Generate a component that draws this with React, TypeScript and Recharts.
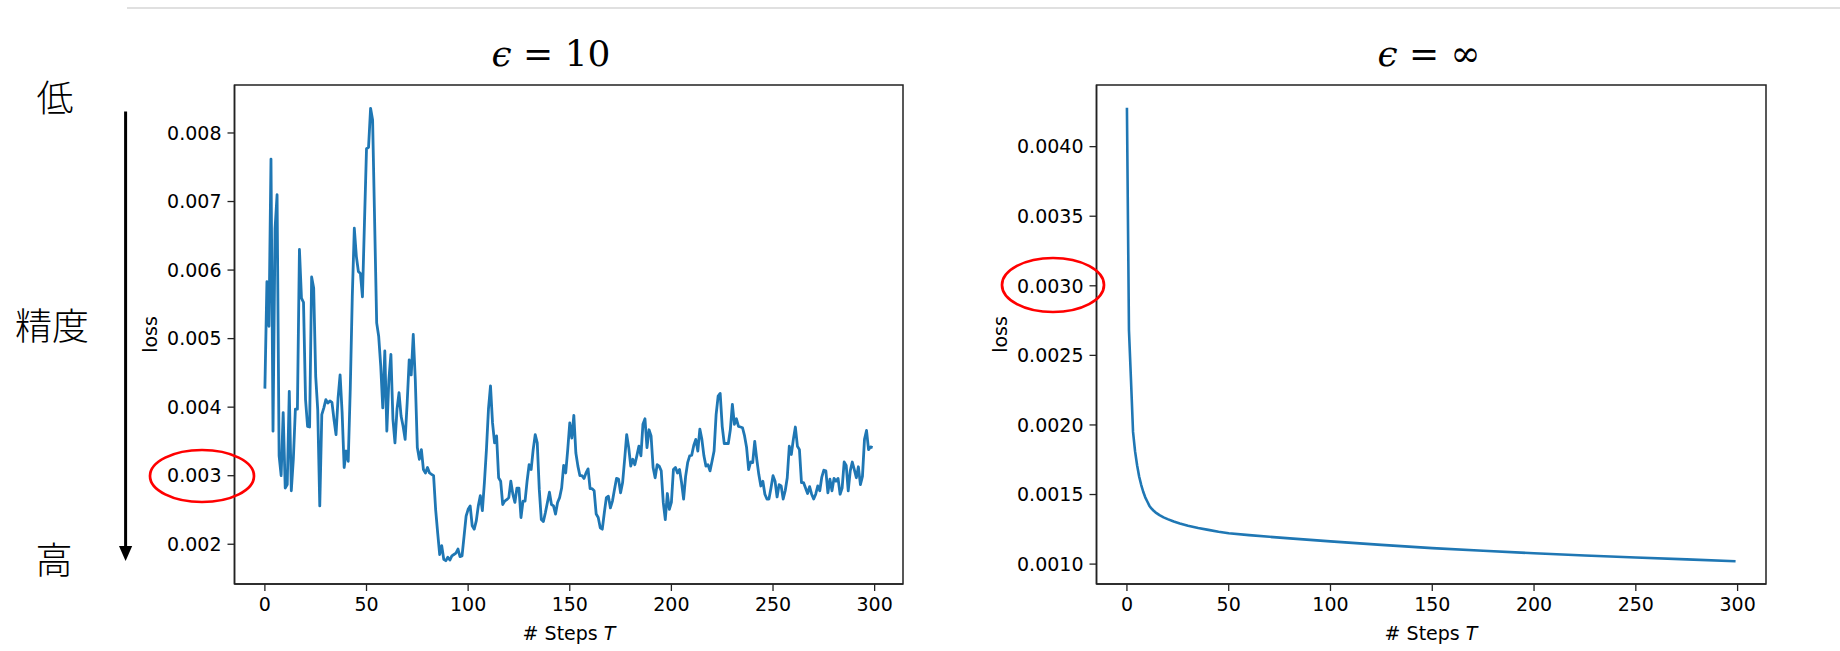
import { LineChart, Line, XAxis, YAxis, ReferenceArea } from 'recharts';

// loss per step, epsilon = 10 (steps 0..299)
const lossEps10 = [
  0.00427, 0.00583, 0.00518, 0.00762, 0.00365, 0.0066, 0.0071, 0.00329, 0.003, 0.00392, 0.00282, 0.00287,
  0.00423, 0.00278, 0.00324, 0.00397, 0.00397,
  0.0063, 0.00559, 0.00553, 0.00411, 0.00372, 0.00371, 0.0059, 0.00574, 0.00445, 0.00396, 0.00256, 0.00389, 0.00399,
  0.00411, 0.00406, 0.00409, 0.00407, 0.00382, 0.0036, 0.00413, 0.00447, 0.00392, 0.00312, 0.00336, 0.00321,
  0.00426, 0.00561, 0.00661, 0.0062, 0.00598, 0.00595, 0.00561, 0.0067,
  0.00777, 0.00779, 0.00836, 0.00819, 0.0067, 0.00523,
  0.00503, 0.0046, 0.00399, 0.00482, 0.00365, 0.0044, 0.00477, 0.00382, 0.00348, 0.00397, 0.00421, 0.00387, 0.00372, 0.00353,
  0.00406, 0.00469, 0.00447, 0.00506, 0.0044, 0.00341, 0.00324, 0.00338, 0.00309, 0.00304, 0.00312, 0.00304, 0.00302, 0.003,
  0.00251, 0.00217, 0.00185, 0.00198, 0.00178, 0.00176, 0.00181, 0.00177, 0.00183, 0.00185, 0.00187, 0.00193, 0.00182, 0.00183,
  0.00212, 0.00241, 0.00251, 0.00256, 0.00227, 0.00222, 0.00234, 0.00256, 0.00271, 0.00249, 0.0029, 0.00338, 0.00397,
  0.00431, 0.00377, 0.00348, 0.00358, 0.00297, 0.00292, 0.00258, 0.00263, 0.00265, 0.00268, 0.00292, 0.00273, 0.00261, 0.00282,
  0.00282, 0.00239, 0.00263, 0.00263, 0.00292, 0.00316, 0.00309, 0.00338, 0.0036, 0.00348, 0.0028, 0.00236, 0.00233, 0.00246,
  0.00261, 0.00276, 0.00258, 0.00256, 0.00244, 0.00261, 0.00268, 0.00282, 0.00315, 0.00304,
  0.00338,
  0.00377, 0.00355, 0.00388, 0.00333, 0.00314, 0.003, 0.003, 0.00296, 0.00304, 0.0031,
  0.00281, 0.00281, 0.00278, 0.00244, 0.00239, 0.00224, 0.00222, 0.00246, 0.00268, 0.0027,
  0.00253, 0.00263, 0.0028, 0.00296, 0.00295, 0.00275, 0.0029, 0.00324, 0.0036, 0.00341,
  0.00314, 0.00324, 0.00316, 0.00329, 0.00343, 0.00329, 0.00375, 0.00383, 0.00341, 0.00367,
  0.00358, 0.00312, 0.00297, 0.00316, 0.00314, 0.00307, 0.00261, 0.00236, 0.00274, 0.00251,
  0.00261, 0.00309, 0.00312, 0.00304, 0.00309, 0.0029, 0.00266, 0.00299, 0.00319, 0.00329,
  0.0033, 0.00344, 0.00353, 0.00336, 0.00368, 0.00353, 0.00329, 0.00314, 0.00316, 0.00307,
  0.00321, 0.00336, 0.00389, 0.00416, 0.0042, 0.00372, 0.00347, 0.00347, 0.00347, 0.00367,
  0.00404, 0.00375, 0.00383, 0.00372, 0.00371, 0.0037, 0.00358, 0.00341, 0.00309, 0.0032,
  0.00319, 0.0035, 0.00324, 0.00302, 0.00285, 0.00292, 0.00273, 0.00266, 0.00266, 0.00282,
  0.003, 0.00292, 0.00269, 0.00287, 0.00285, 0.00266, 0.00278, 0.00297, 0.00343, 0.00331,
  0.00353, 0.00371, 0.00343, 0.00338, 0.0029, 0.0029, 0.00282, 0.00274, 0.00284, 0.00273,
  0.00266, 0.00273, 0.00285, 0.00278, 0.00298, 0.00308, 0.00307, 0.00275, 0.00295, 0.00278,
  0.00296, 0.00292, 0.00296, 0.00273, 0.00282, 0.0032, 0.00315, 0.00278, 0.00307, 0.0032,
  0.00309, 0.00297, 0.00313, 0.00287, 0.00299, 0.00353, 0.00366, 0.00338, 0.00342, 0.00341,
];

// epsilon = infinity: smooth decay, sampled steps
const infSteps = [
  0, 1, 2, 3, 4, 5, 6, 7, 8, 9, 10, 11, 12, 13, 14, 16, 18, 20, 23, 26, 30, 35, 40, 45, 50,
  60, 70, 80, 90, 100, 125, 150, 175, 200, 225, 250, 275, 299,
];
const infLoss = [
  0.00428, 0.00268, 0.00232, 0.00195, 0.00181, 0.00171, 0.00163, 0.00157, 0.00152, 0.00148, 0.00145, 0.00142,
  0.0014, 0.001385, 0.001372, 0.001352, 0.001336, 0.001323, 0.001306, 0.001292, 0.001276, 0.00126, 0.001246,
  0.001233, 0.001222, 0.001208, 0.001196, 0.001185, 0.001174, 0.001163, 0.001138, 0.001115, 0.001096, 0.001078,
  0.001062, 0.001047, 0.001034, 0.001021,
];

const stepTicks = [0, 50, 100, 150, 200, 250, 300];
const eps10Ticks = [0.002, 0.003, 0.004, 0.005, 0.006, 0.007, 0.008];
const infTicks = [0.001, 0.0015, 0.002, 0.0025, 0.003, 0.0035, 0.004];

const BLUE = '#1f77b4';
const SANS = '"DejaVu Sans", sans-serif';
const xDomain: [number, number] = [-14.95, 313.95];

const eps10Data = lossEps10.map((loss, step) => ({ step, loss }));
const infData = infSteps.map((step, i) => ({ step, loss: infLoss[i] }));

const tickStyle = { fontSize: 19, fontFamily: SANS, fill: '#000' };

interface PanelProps {
  data: { step: number; loss: number }[];
  yDomain: [number, number];
  yTicks: number[];
  digits: number;
  left: number;
  marginLeft: number;
  marginRight: number;
  lineWidth: number;
}

function Panel({ data, yDomain, yTicks, digits, left, marginLeft, marginRight, lineWidth }: PanelProps) {
  return (
    <div style={{ position: 'absolute', left, top: 0 }}>
      <LineChart width={920} height={651} data={data} margin={{ top: 85, right: marginRight, bottom: 7, left: marginLeft }}>
        <XAxis
          dataKey="step"
          type="number"
          domain={xDomain}
          ticks={stepTicks}
          allowDataOverflow
          height={60}
          tickSize={7}
          tickMargin={7}
          tick={tickStyle}
          axisLine={{ stroke: '#222', strokeWidth: 1.5 }}
          tickLine={{ stroke: '#222', strokeWidth: 1.3 }}
        />
        <YAxis
          type="number"
          domain={yDomain}
          ticks={yTicks}
          allowDataOverflow
          width={80}
          tickSize={7}
          tickMargin={6}
          tick={tickStyle}
          tickFormatter={(v: number) => v.toFixed(digits)}
          axisLine={{ stroke: '#222', strokeWidth: 1.5 }}
          tickLine={{ stroke: '#222', strokeWidth: 1.3 }}
        />
        <ReferenceArea
          x1={xDomain[0]}
          x2={xDomain[1]}
          y1={yDomain[0]}
          y2={yDomain[1]}
          fill="none"
          stroke="#222"
          strokeWidth={1.5}
          ifOverflow="visible"
        />
        <Line
          type="linear"
          dataKey="loss"
          stroke={BLUE}
          strokeWidth={lineWidth}
          strokeLinejoin="round"
          dot={false}
          isAnimationActive={false}
        />
      </LineChart>
    </div>
  );
}

function StepsLabel({ x }: { x: number }) {
  return (
    <text x={x} y={640} textAnchor="middle" fontSize={19} fontFamily={SANS} fill="#000">
      # Steps <tspan fontStyle="italic">T</tspan>
    </text>
  );
}

function LossLabel({ x }: { x: number }) {
  return (
    <text
      x={x}
      y={334.5}
      transform={`rotate(-90 ${x} 334.5)`}
      textAnchor="middle"
      dominantBaseline="central"
      fontSize={19}
      fontFamily={SANS}
      fill="#000"
    >
      loss
    </text>
  );
}

function Title({ x, value }: { x: number; value: string }) {
  return (
    <text x={x} y={66} textAnchor="middle" fontSize={36} fontFamily='"DejaVu Serif", serif' fill="#000">
      <tspan fontStyle="italic">ϵ</tspan> = {value}
    </text>
  );
}

export default function App() {
  const cjk = '"Noto Sans CJK JP", "Noto Sans CJK SC", sans-serif';
  return (
    <div style={{ position: 'absolute', left: 0, top: 0, width: 1840, height: 651, background: '#fff' }}>
      <Panel data={eps10Data} yDomain={[0.00142, 0.0087]} yTicks={eps10Ticks} digits={3} left={0} marginLeft={154.5} marginRight={17} lineWidth={2.8} />
      <Panel data={infData} yDomain={[0.000857, 0.004443]} yTicks={infTicks} digits={4} left={920} marginLeft={96.5} marginRight={74} lineWidth={2.6} />

      <svg width={1840} height={651} style={{ position: 'absolute', left: 0, top: 0, pointerEvents: 'none' }}>
        <line x1={127} y1={8} x2={1840} y2={8} stroke="#d6d6d6" strokeWidth={1.5} />

        <Title x={551} value="10" />
        <Title x={1429} value="∞" />

        <StepsLabel x={569} />
        <StepsLabel x={1431} />
        <LossLabel x={150} />
        <LossLabel x={1000} />

        <text x={55} y={96} textAnchor="middle" dominantBaseline="central" fontSize={37} fontWeight={300} fontFamily={cjk} fill="#000">低</text>
        <text x={52} y={324} textAnchor="middle" dominantBaseline="central" fontSize={37} fontWeight={300} fontFamily={cjk} fill="#000">精度</text>
        <text x={54} y={558} textAnchor="middle" dominantBaseline="central" fontSize={37} fontWeight={300} fontFamily={cjk} fill="#000">高</text>

        <line x1={125.6} y1={111.5} x2={125.6} y2={548} stroke="#000" strokeWidth={3} />
        <polygon points="119,546 132.2,546 125.6,561" fill="#000" />

        <ellipse cx={202} cy={476} rx={52} ry={26} fill="none" stroke="#f00" strokeWidth={2.7} />
        <ellipse cx={1053} cy={285} rx={51} ry={27} fill="none" stroke="#f00" strokeWidth={2.7} />
      </svg>
    </div>
  );
}
